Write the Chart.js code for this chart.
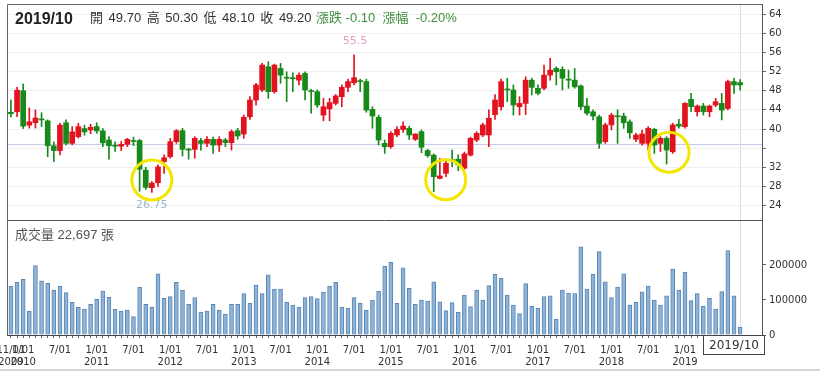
<!DOCTYPE html>
<html>
<head>
	<meta charset="UTF-8">
	<title>2019/10 月K線</title>
	<script src="https://cdn.jsdelivr.net/npm/chart.js@4.4.1/dist/chart.umd.min.js"></script>
	<style>
		body { margin: 0; background: #fff; }
		#wrap { position: relative; width: 820px; height: 374px; }
		#chart { position: absolute; left: 0; top: 0; }
		.txt { position: absolute; white-space: nowrap; font-family: "Liberation Sans", "Noto Sans CJK TC", sans-serif; }
		#date { left: 15px; top: 11px; font-size: 16px; line-height: 16px; color: #222; font-weight: bold; }
		#ohlc { left: 90px; top: 11px; font-size: 13px; line-height: 13px; color: #333; word-spacing: 2px; }
		#chg { left: 316px; top: 11px; font-size: 13px; line-height: 13px; color: #3f8f3f; }
		#vol { left: 15px; top: 228px; font-size: 13px; line-height: 13px; color: #555; }
	</style>
</head>
<body>
<div id="wrap">
	<canvas id="chart" width="820" height="374"></canvas>
	<div class="txt" id="date">2019/10</div>
	<div class="txt" id="ohlc">開 49.70 高 50.30 低 48.10 收 49.20</div>
	<div class="txt" id="chg">漲跌 -0.10 &nbsp;漲幅 &nbsp;-0.20%</div>
	<div class="txt" id="vol">成交量 22,697 張</div>
</div>
<script>
// monthly candles, Nov 2009 .. Oct 2019
const startYear = 2009, startMonth = 11;
const opens = [43.5,43.6,48.0,40.8,41.3,42.1,41.7,36.5,35.5,41.3,37.0,38.4,40.1,39.8,40.5,39.6,37.7,36.6,36.4,36.8,
	37.6,37.6,31.4,27.75,28.8,33.2,34.2,37.35,39.65,35.8,35.75,37.55,37.0,37.85,36.65,37.7,37.15,39.65,38.95,42.55,
	46.05,48.15,53.0,47.8,52.65,50.8,50.65,50.2,51.6,48.0,47.8,42.9,44.2,45.35,46.75,48.7,49.65,50.1,49.9,44.1,
	42.45,37.0,36.3,38.75,39.9,40.15,37.85,39.45,35.5,34.55,29.7,30.75,33.6,33.7,31.8,34.55,37.7,38.75,38.75,43.0,
	44.65,48.3,48.15,44.65,45.35,50.2,48.5,48.5,51.25,52.65,52.45,50.3,50.2,49.0,44.8,43.6,42.55,37.35,40.85,42.7,
	42.7,41.5,37.85,37.0,37.0,39.95,37.0,38.05,35.25,41.0,40.5,46.2,43.6,44.8,43.6,45.0,45.35,44.3,49.9,49.7];
const highs = [46.05,48.7,49.4,44.4,44.0,43.4,41.9,37.3,41.2,41.9,40.5,41.2,40.8,41.0,41.3,40.1,38.4,37.3,37.4,38.05,
	38.3,37.85,32.0,29.0,32.5,34.6,38.05,39.9,40.15,36.0,38.4,38.05,38.4,38.3,38.4,38.05,39.8,40.15,42.9,46.75,
	49.55,53.7,54.05,53.55,53.7,51.95,51.75,51.75,51.95,48.3,48.15,46.4,46.4,47.2,49.2,50.4,55.5,50.4,50.4,44.65,
	42.9,37.7,39.45,40.5,41.5,40.6,39.0,39.8,35.75,34.8,33.9,33.7,35.6,34.6,35.2,38.3,39.45,41.2,44.0,47.2,
	50.4,50.6,49.2,46.75,50.9,50.6,49.2,53.35,54.75,53.0,53.0,52.3,52.65,49.2,46.4,44.0,42.9,41.2,43.3,44.0,
	43.3,41.9,39.1,39.8,40.5,40.15,38.4,38.4,41.2,42.0,45.5,47.45,45.0,45.35,45.0,46.4,47.45,50.2,50.6,50.3];
const lows = [42.5,42.6,40.1,40.2,40.2,40.5,34.2,33.2,34.6,36.7,36.7,38.1,38.7,39.0,39.1,36.3,33.7,35.3,35.5,36.3,
	36.5,27.0,27.4,26.75,28.0,30.75,33.9,37.0,34.35,33.7,33.9,35.6,36.3,34.9,35.3,36.3,35.6,37.85,38.05,42.0,
	45.0,47.8,46.4,47.45,49.55,45.7,47.8,49.2,46.05,43.3,44.5,41.7,41.7,45.0,44.65,47.8,49.2,47.8,43.5,40.15,
	36.65,34.9,36.0,38.4,39.3,37.8,37.6,35.05,34.1,26.9,29.6,30.05,32.15,31.3,31.6,34.35,37.35,38.4,36.3,42.0,
	43.95,45.7,42.9,42.9,43.0,47.1,47.1,48.15,50.2,49.2,48.15,48.5,48.5,44.0,42.9,41.9,35.95,37.0,39.8,37.0,
	40.15,38.05,37.35,36.65,35.6,34.9,35.3,32.7,34.9,40.15,40.15,43.6,42.7,42.9,42.55,44.65,41.9,44.0,47.45,48.1];
const closes = [43.2,48.1,40.6,41.5,42.3,41.9,36.5,35.5,40.8,37.0,39.4,40.5,39.4,40.35,39.6,37.1,36.5,36.4,36.8,37.85,
	37.4,31.6,27.8,28.7,32.1,34.0,37.35,39.65,35.75,35.6,38.05,37.0,37.85,36.65,37.85,37.15,39.45,38.55,42.45,46.05,
	49.2,53.35,47.8,53.35,51.25,50.6,50.5,51.25,48.15,47.8,45.0,44.65,45.5,46.9,48.7,49.9,50.7,49.9,43.95,42.7,
	37.7,36.3,39.1,39.95,40.6,38.75,38.95,36.2,34.45,30.05,30.2,32.85,33.4,32.5,34.8,38.05,39.1,40.85,42.25,46.05,
	49.9,48.15,45.0,45.35,50.2,48.7,47.45,51.25,52.3,51.95,50.6,50.2,48.8,44.65,43.3,42.7,37.0,40.85,42.9,42.55,
	41.3,39.2,38.75,38.95,40.15,36.65,38.05,35.6,40.85,40.6,45.35,44.65,44.8,43.6,44.8,45.7,43.95,49.9,49.2,49.2];
const volumes = [140000,150500,159000,68600,198000,155000,147600,128600,140000,121000,93000,79000,74000,87600,102000,125700,107600,73000,68600,71400,
	52400,137000,87600,79000,175000,104800,109500,150500,128600,87600,106700,65700,68600,87600,71400,60000,87600,87600,118000,90500,
	142900,118000,172000,131400,131400,93300,85700,80000,106700,109500,103800,122900,140000,150500,80000,77000,106700,90500,70500,100000,
	125700,196000,207600,90500,192000,133000,87600,100000,97000,152000,95000,69500,92400,64800,114000,81000,128600,100000,141000,174000,
	162000,114000,85700,61000,146700,82000,76000,109500,112000,45700,128600,120000,118000,252000,131400,173000,238000,152000,106700,137000,
	175000,85700,93300,123000,140000,100000,85700,112000,188600,128600,180000,98000,118000,82900,104800,74000,123800,241000,112000,22697];

const priceTicks = [24, 28, 32, 36, 40, 44, 48, 52, 56, 60, 64];
const volumeTicks = [0, 100000, 200000];
const refLine = 36.8;
// marked lows (month index, price)
const circleIdx = [23, 70.95, 107.4];
const circleVal = [29.35, 29.4, 35.15];

const RED = '#e3121f', GREEN = '#178a1a';

let months = [];
for (let i = 0; i < opens.length; i++) {
	let m = startMonth - 1 + i;
	months.push({ y: startYear + Math.floor(m / 12), m: (m % 12) + 1 });
}
let xLabels = months.map((d, i) => {
	if (i === 0) return [d.m + '/01', String(d.y)];
	if (d.m === 1) return ['1/01', String(d.y)];
	if (d.m === 7) return '7/01';
	return '';
});

let colors = opens.map((o, i) => closes[i] >= o ? RED : GREEN);
let wicks = opens.map((o, i) => ({ x: i, y: [lows[i], highs[i]] }));
let bodies = opens.map((o, i) => ({ x: i, y: [o, closes[i]] }));
let vols = volumes.map((v, i) => ({ x: i, y: v }));

const axisFont = { family: 'DejaVu Sans', size: 10 };

const overlay = {
	id: 'overlay',
	beforeDatasetsDraw(chart) {
		let c = chart.ctx, a = chart.chartArea, yP = chart.scales.yP, x = chart.scales.x;
		c.save();
		// reference line
		let ry = Math.round(yP.getPixelForValue(refLine)) + 0.5;
		c.strokeStyle = '#c8c8ee';
		c.lineWidth = 1;
		c.beginPath(); c.moveTo(a.left, ry); c.lineTo(a.right, ry); c.stroke();
		// cursor line on last month
		let cx = Math.round(x.getPixelForValue(opens.length - 1)) + 0.5;
		c.strokeStyle = '#dddddd';
		c.beginPath(); c.moveTo(cx, a.top); c.lineTo(cx, a.bottom); c.stroke();
		c.restore();
	},
	afterDatasetsDraw(chart) {
		let c = chart.ctx, yP = chart.scales.yP, x = chart.scales.x;
		c.save();
		// highest / lowest labels
		let hi = 0, lo = 0;
		for (let i = 1; i < highs.length; i++) {
			if (highs[i] > highs[hi]) hi = i;
			if (lows[i] < lows[lo]) lo = i;
		}
		c.font = '11px "DejaVu Sans"';
		c.textAlign = 'center';
		c.textBaseline = 'middle';
		c.fillStyle = '#e89cc8';
		c.fillText(String(highs[hi]), x.getPixelForValue(hi) + 1, yP.getPixelForValue(highs[hi]) - 14);
		c.fillStyle = '#9db4c8';
		c.fillText(String(lows[lo]), x.getPixelForValue(lo), yP.getPixelForValue(lows[lo]) + 13);
		// yellow circles
		c.strokeStyle = '#f3e600';
		c.lineWidth = 3;
		for (let k = 0; k < circleIdx.length; k++) {
			c.beginPath();
			c.arc(x.getPixelForValue(circleIdx[k]), yP.getPixelForValue(circleVal[k]), 20, 0, Math.PI * 2);
			c.stroke();
		}
		c.restore();
	},
	afterDraw(chart) {
		let c = chart.ctx, a = chart.chartArea, yP = chart.scales.yP;
		c.save();
		c.lineWidth = 1;
		c.strokeStyle = '#666';
		c.beginPath();
		c.moveTo(a.left + 0.5, a.bottom); c.lineTo(a.left + 0.5, a.top + 0.5); c.lineTo(a.right, a.top + 0.5);
		c.stroke();
		c.strokeStyle = '#555';
		let sy = Math.round(yP.bottom) + 0.5;
		c.beginPath(); c.moveTo(a.left, sy); c.lineTo(a.right, sy); c.stroke();
		// footer line
		c.strokeStyle = '#d6d6d6';
		c.lineWidth = 2;
		c.beginPath(); c.moveTo(0, 370); c.lineTo(820, 370); c.stroke();
		// current month box
		let last = months[months.length - 1];
		let txt = last.y + '/' + last.m;
		c.lineWidth = 1;
		c.fillStyle = '#fff';
		c.fillRect(703, a.bottom + 1, 62, 19);
		c.strokeStyle = '#444';
		c.strokeRect(703.5, a.bottom + 0.5, 61, 19);
		c.fillStyle = '#333';
		c.font = '12px "DejaVu Sans"';
		c.textAlign = 'center';
		c.textBaseline = 'middle';
		c.fillText(txt, 734, a.bottom + 11);
		c.restore();
	}
};

const noPad = s => { s.paddingLeft = 0; s.paddingRight = 0; s.paddingTop = 0; s.paddingBottom = 0; };

new Chart(document.getElementById('chart'), {
	type: 'bar',
	data: {
		datasets: [
			{ data: wicks, yAxisID: 'yP', barThickness: 1, backgroundColor: colors, grouped: false, order: 3 },
			{ data: bodies, yAxisID: 'yP', barThickness: 5, backgroundColor: colors, grouped: false, minBarLength: 1, order: 2 },
			{ data: vols, yAxisID: 'yV', barThickness: 4, backgroundColor: '#8db3d9', borderColor: '#5a86b4', borderWidth: 1, grouped: false, order: 1 }
		]
	},
	options: {
		responsive: false,
		animation: false,
		layout: { padding: { left: 7, top: 4, right: 0, bottom: 0 } },
		plugins: { legend: { display: false }, tooltip: { enabled: false } },
		scales: {
			yP: {
				position: 'right', stack: 'panes', stackWeight: 216,
				min: 21.0, max: 66.1,
				afterBuildTicks: s => { s.ticks = priceTicks.map(v => ({ value: v })); },
				afterFit: s => { s.width = 58; noPad(s); },
				grid: { color: '#f0f0f0', tickColor: '#666', tickLength: 4 },
				border: { color: '#555' },
				ticks: { autoSkip: false, padding: 3, color: '#333', font: axisFont, callback: v => v === 36 ? '' : String(v) }
			},
			yV: {
				position: 'right', stack: 'panes', stackWeight: 115,
				min: 0, max: 328571,
				afterBuildTicks: s => { s.ticks = volumeTicks.map(v => ({ value: v })); },
				afterFit: s => { s.width = 58; noPad(s); },
				grid: { drawOnChartArea: false, tickColor: '#666', tickLength: 4 },
				border: { color: '#555' },
				ticks: { autoSkip: false, padding: 3, color: '#333', font: axisFont, callback: v => String(v) }
			},
			x: {
				type: 'linear', min: -0.64, max: 122.57, offset: false,
				afterBuildTicks: s => { s.ticks = months.map((d, i) => ({ value: i })); },
				afterFit: s => { s.height = 39; noPad(s); },
				grid: { drawOnChartArea: false, offset: false, tickColor: '#666', tickLength: 3 },
				border: { color: '#444' },
				ticks: { autoSkip: false, maxRotation: 0, padding: 6, color: '#333', font: axisFont,
					callback: (v, i) => xLabels[i] }
			}
		}
	},
	plugins: [overlay]
});
</script>
</body>
</html>
